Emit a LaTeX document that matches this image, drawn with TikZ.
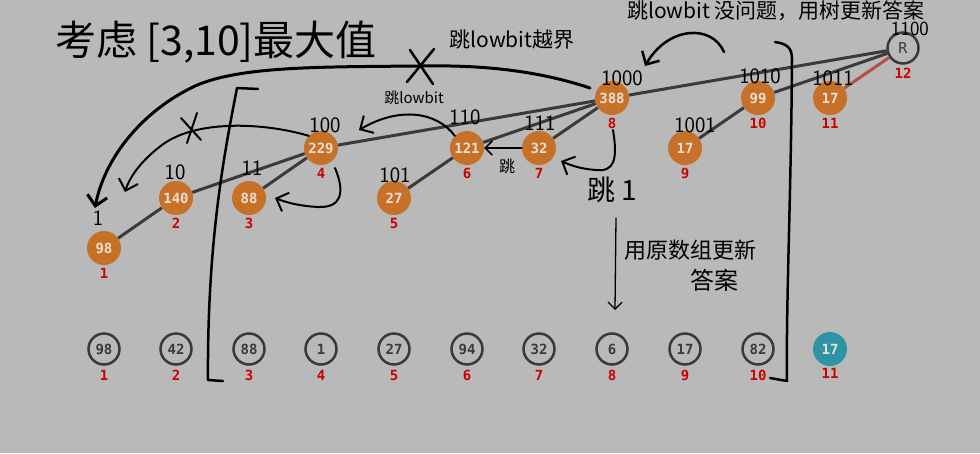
\documentclass[tikz,border=0pt]{standalone}
\usepackage{fontspec}
\newfontfamily\cjk{Noto Sans CJK SC}
\newfontfamily\monofont{DejaVu Sans Mono}
\usetikzlibrary{positioning,arrows.meta}

\definecolor{bggray}{RGB}{185,185,185}
\definecolor{nodeorange}{RGB}{198,112,40}
\definecolor{nodetext}{RGB}{234,224,212}
\definecolor{edgegray}{RGB}{58,58,58}
\definecolor{idxred}{RGB}{204,0,0}
\definecolor{arrteal}{RGB}{46,148,164}
\definecolor{rededge}{RGB}{180,82,62}

\tikzset{
  treenode/.style={circle, fill=nodeorange, minimum size=34pt, inner sep=0pt,
    text=nodetext, font=\monofont\bfseries\fontsize{14}{16}\selectfont},
  rootnode/.style={circle, draw=edgegray, line width=2.5pt, minimum size=31pt, inner sep=0pt,
    text=edgegray, font=\monofont\fontsize{15}{16}\selectfont},
  arrnode/.style={circle, draw=edgegray, line width=2.5pt, minimum size=31pt, inner sep=0pt,
    text=edgegray, font=\monofont\bfseries\fontsize{14}{16}\selectfont},
  hitnode/.style={circle, fill=arrteal, minimum size=34pt, inner sep=0pt,
    text=nodetext, font=\monofont\bfseries\fontsize{14}{16}\selectfont},
  idx/.style={text=idxred, inner sep=1pt, font=\monofont\bfseries\fontsize{14}{16}\selectfont},
  bits/.style={inner sep=1pt, font=\sffamily\fontsize{22}{24}\selectfont},
  note/.style={inner sep=1pt, font=\cjk\fontsize{#1}{#1}\selectfont},
  treeedge/.style={draw=edgegray, line width=3pt},
  hand/.style={line width=2.5pt, line cap=round, line join=round},
  handarrow/.style={hand, -{Straight Barb[length=10pt, width=20pt]}},
  thinarrow/.style={line width=1.6pt, line cap=round, -{Straight Barb[length=7pt, width=14pt]}},
}

\begin{document}
\begin{tikzpicture}[x=1pt, y=-1pt]

\fill[bggray] (0,0) rectangle (980,453);
\useasboundingbox (0,0) rectangle (980,453);

%% 树
\node[treenode] (t1) at (104,248) {98};
\node[treenode] (t2) at (176,198) {140};
\node[treenode] (t3) at (249,198) {88};
\node[treenode] (t4) at (321,148) {229};
\node[treenode] (t5) at (394,198) {27};
\node[treenode] (t6) at (467,148) {121};
\node[treenode] (t7) at (539,148) {32};
\node[treenode] (t8) at (612,98) {388};
\node[treenode] (t9) at (685,148) {17};
\node[treenode] (t10) at (758,98) {99};
\node[treenode] (t11) at (830,98) {17};
\node[rootnode] (t12) at (903,48) {R};

\node[idx, below=2pt of t1] (ti1) {1};
\node[idx, below=2pt of t2] (ti2) {2};
\node[idx, below=2pt of t3] (ti3) {3};
\node[idx, below=2pt of t4] (ti4) {4};
\node[idx, below=2pt of t5] (ti5) {5};
\node[idx, below=2pt of t6] (ti6) {6};
\node[idx, below=2pt of t7] (ti7) {7};
\node[idx, below=2pt of t8] (ti8) {8};
\node[idx, below=2pt of t9] (ti9) {9};
\node[idx, below=2pt of t10] (ti10) {10};
\node[idx, below=2pt of t11] (ti11) {11};
\node[idx, below=2pt of t12] (ti12) {12};

%% 边
\draw[treeedge] (t1) -- (t2);
\draw[treeedge] (t2) -- (t4);
\draw[treeedge] (t3) -- (t4);
\draw[treeedge] (t4) -- (t8);
\draw[treeedge] (t5) -- (t6);
\draw[treeedge] (t6) -- (t8);
\draw[treeedge] (t7) -- (t8);
\draw[treeedge] (t8) -- (t12);
\draw[treeedge] (t9) -- (t10);
\draw[treeedge] (t10) -- (t12);
\draw[treeedge, draw=rededge] (t11) -- (t12);

%% 二进制
\node[bits] (b1) at (98,218) {1};
\node[bits] (b2) at (175,172) {10};
\node[bits] (b3) at (252,168) {11};
\node[bits] (b4) at (325,125) {100};
\node[bits] (b5) at (395,175) {101};
\node[bits] (b6) at (465,117) {110};
\node[bits] (b7) at (540,123) {111};
\node[bits] (b8) at (622,78) {1000};
\node[bits] (b9) at (695,125) {1001};
\node[bits] (b10) at (760,76) {1010};
\node[bits] (b11) at (833,78) {1011};
\node[bits, font=\sffamily\fontsize{20}{22}\selectfont] (b12) at (910,29) {1100};

%% 原数组
\node[arrnode] (a1) at (104,349) {98};
\node[arrnode] (a2) at (176,349) {42};
\node[arrnode] (a3) at (249,349) {88};
\node[arrnode] (a4) at (321,349) {1};
\node[arrnode] (a5) at (394,349) {27};
\node[arrnode] (a6) at (467,349) {94};
\node[arrnode] (a7) at (539,349) {32};
\node[arrnode] (a8) at (612,349) {6};
\node[arrnode] (a9) at (685,349) {17};
\node[arrnode] (a10) at (758,349) {82};
\node[hitnode] (a11) at (830,349) {17};

\node[idx, below=3pt of a1] (ai1) {1};
\node[idx, below=3pt of a2] (ai2) {2};
\node[idx, below=3pt of a3] (ai3) {3};
\node[idx, below=3pt of a4] (ai4) {4};
\node[idx, below=3pt of a5] (ai5) {5};
\node[idx, below=3pt of a6] (ai6) {6};
\node[idx, below=3pt of a7] (ai7) {7};
\node[idx, below=3pt of a8] (ai8) {8};
\node[idx, below=3pt of a9] (ai9) {9};
\node[idx, below=3pt of a10] (ai10) {10};
\node[idx, below=1pt of t11 |- a11.south] (ai11) {11};

%% 区间
\draw[hand] (258,89) -- (237,88) .. controls (225,150) and (207,240) .. (208,380) -- (223,381);
\draw[hand] (775,42) .. controls (788,44) and (792,48) .. (792,60) .. controls (791,200) and (786,300) .. (787,381) -- (770,378);

%% 说明
\node[note=41] (title) at (216,42) {考虑 [3,10]最大值};
\node[note=21] (n1) at (512,40) {跳lowbit越界};
\node[note=21] (n2) at (776,11) {跳lowbit 没问题，用树更新答案};
\node[note=15] (n3) at (414,98) {跳lowbit};
\node[note=16] (n4) at (507,166) {跳};
\node[note=28] (n5) at (612,190) {跳\hspace{6pt}1};
\node[note=22] (n6) at (690,250) {用原数组更新};
\node[note=24] (n7) at (714,280) {答案};

%% 箭头
\draw[handarrow, line width=3pt] (590,88) .. controls (530,68) and (470,65) .. (418,66)
  .. controls (320,67) and (240,66) .. (195,86) .. controls (140,112) and (104,160) .. (95,208);
\draw[hand] (407,82) -- (434,49);
\draw[hand] (410,50) -- (433,84);

\draw[handarrow, line width=2pt] (t4.north west) .. controls (262,122) and (195,120) .. (162,145)
  .. controls (142,160) and (130,176) .. (125,192);
\draw[hand, line width=2pt] (181,118) -- (201,140);
\draw[hand, line width=2pt] (197,113) -- (187,143);

\draw[handarrow, line width=2pt] (t6.north west) .. controls (437,112) and (400,106) .. (359,130);
\draw[handarrow, line width=2pt] (335,168) .. controls (345,192) and (342,208) .. (318,207)
  .. controls (300,206) and (288,203) .. (275,198);
\draw[thinarrow] (t7.west) -- (t6.east);
\draw[handarrow, line width=2pt] (613,130) .. controls (618,160) and (614,172) .. (596,170)
  .. controls (582,169) and (572,166) .. (561,161);
\draw[handarrow] (724,52) .. controls (712,24) and (668,26) .. (645,66);
\draw[thinarrow, line width=1.3pt] (616,218) -- (615,310);

\end{tikzpicture}
\end{document}
